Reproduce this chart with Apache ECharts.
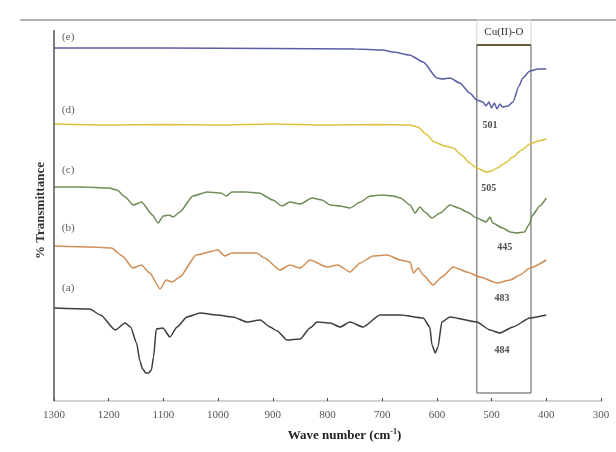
<!DOCTYPE html>
<html>
<head>
<meta charset="utf-8">
<script src="https://cdn.jsdelivr.net/npm/echarts@6/dist/echarts.min.js"></script>
<style>
  html, body { margin: 0; padding: 0; background: #fff; }
  #chart { width: 616px; height: 452px; }
</style>
</head>
<body>
<div id="chart"></div>
<script>
// wave numbers (cm-1) and offset transmittance
var wnA = [1300, 1235, 1215, 1188, 1170, 1160, 1149, 1143, 1138, 1132, 1127, 1122, 1118, 1113, 1101, 1088, 1075, 1057, 1033, 1002, 973, 947, 923, 905, 892, 874, 850, 832, 819, 795, 777, 759, 735, 704, 667, 625, 613, 609, 603, 598, 591, 576, 527, 503, 485, 461, 430, 400]
var tA = [93, 92, 86, 71, 78, 74, 58, 40, 32, 28, 28, 31, 44, 72, 73, 64, 74, 84, 88, 86, 84, 79, 81, 74, 70, 61, 62, 73, 79, 78, 74, 79, 74, 86, 86, 83, 74, 56, 48, 54, 79, 84, 79, 71, 68, 74, 83, 86]

var wnB = [1300, 1230, 1195, 1175, 1156, 1140, 1125, 1106, 1095, 1084, 1070, 1040, 1000, 988, 975, 930, 915, 887, 869, 850, 832, 801, 781, 759, 740, 717, 691, 667, 649, 643, 634, 625, 607, 591, 570, 545, 521, 490, 466, 448, 430, 400]
var tB = [155, 154, 153, 145, 133, 136, 128, 112, 121, 119, 124, 146, 151, 145, 148, 148, 143, 131, 136, 133, 141, 134, 136, 129, 138, 145, 146, 141, 139, 128, 133, 126, 116, 124, 134, 129, 124, 118, 121, 126, 133, 141]

var wnC = [1300, 1250, 1200, 1185, 1170, 1155, 1140, 1120, 1110, 1100, 1090, 1082, 1070, 1046, 1020, 995, 985, 975, 950, 925, 900, 883, 869, 850, 828, 810, 795, 777, 759, 740, 722, 700, 680, 667, 649, 640, 631, 622, 609, 594, 576, 560, 545, 527, 510, 503, 498, 480, 466, 454, 440, 432, 425, 412, 400]
var tC = [214, 214, 213, 211, 204, 196, 199, 186, 178, 185, 186, 184, 189, 205, 209, 208, 205, 209, 209, 208, 201, 195, 199, 197, 203, 201, 196, 195, 193, 199, 205, 206, 205, 203, 196, 188, 194, 189, 183, 188, 196, 193, 189, 183, 179, 184, 178, 173, 169, 168, 169, 176, 186, 195, 203]

var wnD = [1300, 1200, 1100, 1000, 900, 800, 700, 650, 635, 620, 605, 585, 570, 555, 540, 527, 510, 500, 490, 475, 461, 445, 430, 415, 400]
var tD = [277, 276, 276.5, 276, 277, 276, 276.5, 276, 274, 267, 259, 255, 253, 246, 238, 233, 229, 230, 233, 238, 244, 251, 257, 260, 262]

var wnE = [1300, 1100, 900, 750, 700, 680, 650, 625, 600, 590, 576, 558, 540, 527, 516, 510, 505, 500, 495, 490, 485, 480, 470, 461, 450, 443, 430, 415, 400]
var tE = [353, 353, 352.5, 352, 351, 349, 346, 339, 323, 322, 323, 318, 308, 301, 299, 295, 299, 293, 298, 292, 297, 294, 295, 299, 315, 323, 330, 332, 332]

var curveNames = ['(a)', '(b)', '(c)', '(d)', '(e)']
var curveTagX = [1274, 1274, 1274, 1274, 1274]
var curveTagY = [113, 173, 231, 291, 364]

var peakNames = ['484', '483', '445', '505', '501']
var peakX = [481, 481, 476, 505, 503]
var peakY = [51, 103, 154, 213, 276]

// Cu(II)-O band
var bandFrom = 527
var bandTo = 428

var colors = ['#3d3d3d', '#cf8e55', '#6f8c57', '#dcc23c', '#5a5ea4']
var serif = 'Liberation Serif'

function zip(xs, ys) {
    return xs.map(function (x, i) { return [x, ys[i]] })
}

var chart = echarts.init(document.getElementById('chart'))

var lines = [[wnA, tA], [wnB, tB], [wnC, tC], [wnD, tD], [wnE, tE]].map(function (d, i) {
    return {
        name: curveNames[i],
        type: 'line',
        data: zip(d[0], d[1]),
        showSymbol: false,
        smooth: 0.2,
        smoothMonotone: 'x',
        lineStyle: { width: 1.5, color: colors[i] },
        z: 3
    }
})

// y axis line + Cu(II)-O box
lines[0].markLine = {
    silent: true,
    symbol: 'none',
    label: { show: false },
    lineStyle: { color: '#555', width: 1.5, type: 'solid' },
    data: [[{ coord: [1300, 0] }, { coord: [1300, 371] }]]
}
lines[4].markArea = {
    silent: true,
    data: [
        [{ coord: [bandFrom, 8], itemStyle: { color: 'rgba(0,0,0,0)', borderColor: '#555', borderWidth: 1 } }, { coord: [bandTo, 356] }],
        [{
            coord: [bandFrom, 356],
            itemStyle: { color: 'rgba(0,0,0,0)', borderColor: '#d4d4d4', borderWidth: 1 },
            label: { show: true, position: 'inside', formatter: 'Cu(II)-O', fontFamily: serif, fontSize: 11, color: '#333' }
        }, { coord: [bandTo, 381] }]
    ]
}
lines[4].markLine = {
    silent: true,
    symbol: 'none',
    label: { show: false },
    lineStyle: { color: '#6b5b3e', width: 2, type: 'solid' },
    data: [[{ coord: [bandFrom, 356] }, { coord: [bandTo, 356] }]]
}

var tagSeries = {
    type: 'scatter',
    symbolSize: 0,
    silent: true,
    data: zip(curveTagX, curveTagY).map(function (p, i) { return { value: p, name: curveNames[i] } }),
    label: { show: true, position: 'inside', formatter: '{b}', fontFamily: serif, fontSize: 11, color: '#333' }
}
var peakSeries = {
    type: 'scatter',
    symbolSize: 0,
    silent: true,
    data: zip(peakX, peakY).map(function (p, i) { return { value: p, name: peakNames[i] } }),
    label: { show: true, position: 'inside', formatter: '{b}', fontFamily: serif, fontSize: 10, fontWeight: 'bold', color: '#222' }
}

var option = {
    animation: false,
    backgroundColor: '#fff',
    grid: { left: 54, right: 15, top: 20, bottom: 51 },
    xAxis: {
        type: 'value',
        inverse: true,
        min: 300,
        max: 1300,
        interval: 100,
        name: 'Wave number (cm{sup|-1})',
        nameLocation: 'middle',
        nameGap: 27,
        nameTextStyle: {
            fontFamily: serif, fontSize: 13, fontWeight: 'bold', color: '#222',
            padding: [0, 0, 0, 34],
            rich: { sup: { fontFamily: serif, fontSize: 8, fontWeight: 'bold', color: '#222', verticalAlign: 'top', padding: [0, 0, 7, 0] } }
        },
        axisLine: { lineStyle: { color: '#c4c4c4', width: 1.5 } },
        axisTick: { inside: true, length: 3, lineStyle: { color: '#444' } },
        axisLabel: {
            fontFamily: serif, fontSize: 11, color: '#555', margin: 9,
            formatter: function (v) { return String(v) }
        },
        splitLine: { show: false }
    },
    yAxis: {
        type: 'value',
        min: 0,
        max: 381,
        name: '% Transmittance',
        nameLocation: 'middle',
        nameGap: 7,
        nameTextStyle: { fontFamily: serif, fontSize: 13, fontWeight: 'bold', color: '#333' },
        axisLine: { show: false },
        axisTick: { show: false },
        axisLabel: { show: false },
        splitLine: { show: false }
    },
    graphic: [{
        type: 'line',
        shape: { x1: 20, y1: 20, x2: 616, y2: 20 },
        style: { stroke: '#9a9a9a', lineWidth: 1.5 },
        silent: true
    }],
    series: lines.concat([tagSeries, peakSeries])
}

chart.setOption(option)
window.addEventListener('resize', function () {
    chart.resize()
})
</script>
</body>
</html>
